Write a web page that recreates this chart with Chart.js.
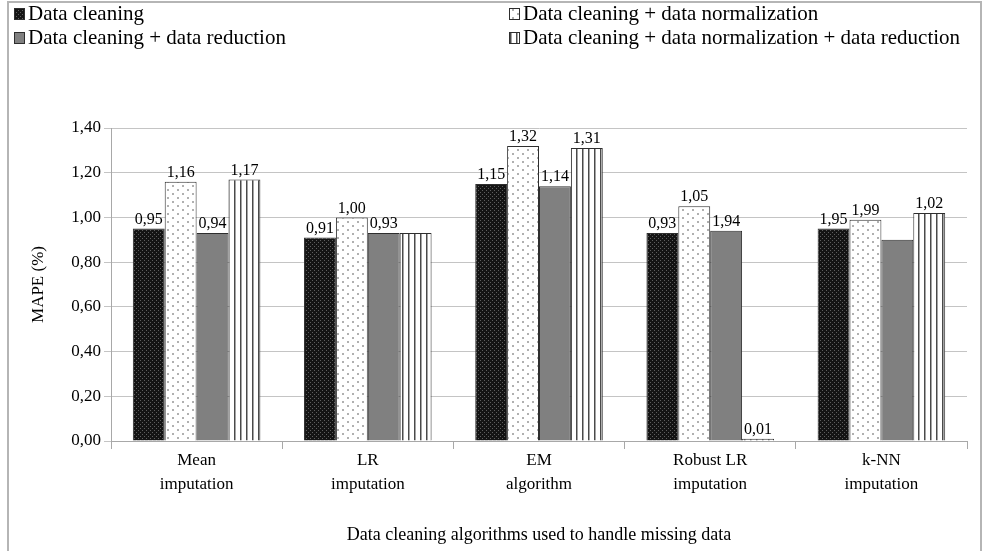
<!DOCTYPE html>
<html>
<head>
<meta charset="utf-8">
<script src="https://cdn.jsdelivr.net/npm/chart.js@4.4.1/dist/chart.umd.min.js"></script>
<style>
  html, body { margin: 0; padding: 0; background: #fff; }
  #wrap { width: 983px; height: 551px; position: relative; }
</style>
</head>
<body>
<div id="wrap"><canvas id="myChart"></canvas></div>
<script>
// chart data
const categories = [
  ["Mean", "imputation"],
  ["LR", "imputation"],
  ["EM", "algorithm"],
  ["Robust LR", "imputation"],
  ["k-NN", "imputation"],
];
const seriesNames = [
  "Data cleaning",
  "Data cleaning + data normalization",
  "Data cleaning + data reduction",
  "Data cleaning + data normalization + data reduction",
];
const cleaning = [0.95, 0.91, 1.15, 0.93, 0.95];
const cleaningNorm = [1.16, 1.00, 1.32, 1.05, 0.99];
const cleaningRed = [0.93, 0.93, 1.14, 0.94, 0.90];
const cleaningNormRed = [1.17, 0.93, 1.31, 0.01, 1.02];
// value labels as printed in the figure
const cleaningLabels = ["0,95", "0,91", "1,15", "0,93", "1,95"];
const cleaningNormLabels = ["1,16", "1,00", "1,32", "1,05", "1,99"];
const cleaningRedLabels = ["0,94", "0,93", "1,14", "1,94", ""];
const cleaningNormRedLabels = ["1,17", "", "1,31", "0,01", "1,02"];
const yTicks = [0, 0.2, 0.4, 0.6, 0.8, 1.0, 1.2, 1.4];

var ctx = document.getElementById("myChart").getContext("2d");
const SERIF = "'Liberation Serif', 'Times New Roman', serif";

function makePattern(w, h, draw) {
  const c = document.createElement("canvas");
  c.width = w;
  c.height = h;
  const g = c.getContext("2d");
  draw(g);
  return ctx.createPattern(c, "repeat");
}

const darkPat = makePattern(4, 4, (g) => {
  g.fillStyle = "#141414";
  g.fillRect(0, 0, 4, 4);
  g.fillStyle = "#5e5e5e";
  g.fillRect(0, 0, 1, 1);
  g.fillRect(2, 2, 1, 1);
});
const dotPat = makePattern(10, 8, (g) => {
  g.fillStyle = "#ffffff";
  g.fillRect(0, 0, 10, 8);
  g.fillStyle = "#b0b0b0";
  g.fillRect(2, 1, 2, 2);
  g.fillRect(7, 5, 2, 2);
});
const grayFill = "#808080";
const stripePat = makePattern(6, 2, (g) => {
  g.fillStyle = "#ffffff";
  g.fillRect(0, 0, 6, 2);
  g.fillStyle = "#4a4a4a";
  g.fillRect(0, 0, 1.5, 2);
});

const fills = [darkPat, dotPat, grayFill, stripePat];
const valueArrays = [cleaning, cleaningNorm, cleaningRed, cleaningNormRed];
const labelArrays = [cleaningLabels, cleaningNormLabels, cleaningRedLabels, cleaningNormRedLabels];

const datasets = seriesNames.map((name, i) => ({
  label: name,
  data: valueArrays[i],
  valueLabels: labelArrays[i],
  backgroundColor: fills[i],
  borderColor: "#2e2e2e",
  borderWidth: 1,
  borderSkipped: "bottom",
  barPercentage: 1.0,
  categoryPercentage: 0.745,
}));

// outer frame, legend and value labels
const figurePlugin = {
  id: "figure",
  beforeDraw(chart) {
    const c = chart.ctx;
    c.save();
    c.fillStyle = "#fff";
    c.fillRect(0, 0, chart.width, chart.height);
    c.strokeStyle = "#b5b5b5";
    c.lineWidth = 2;
    c.strokeRect(8, 2, 973, 560);
    c.restore();
  },
  afterDraw(chart) {
    const c = chart.ctx;
    c.save();
    c.font = "21px " + SERIF;
    c.textBaseline = "middle";
    const pos = [
      [14, 13],
      [509, 13],
      [14, 37],
      [509, 37],
    ];
    chart.data.datasets.forEach((ds, i) => {
      const [x, y] = pos[i];
      c.fillStyle = ds.backgroundColor;
      c.fillRect(x, y - 5, 10, 11);
      c.strokeStyle = "#2e2e2e";
      c.lineWidth = 1;
      c.strokeRect(x + 0.5, y - 5 + 0.5, 10, 11);
      c.fillStyle = "#000";
      c.fillText(ds.label, x + 14, y + 1);
    });
    c.restore();
  },
  afterDatasetsDraw(chart) {
    const c = chart.ctx;
    c.save();
    c.font = "16px " + SERIF;
    c.textAlign = "center";
    c.textBaseline = "bottom";
    c.fillStyle = "#000";
    chart.data.datasets.forEach((ds, i) => {
      chart.getDatasetMeta(i).data.forEach((bar, j) => {
        const txt = ds.valueLabels[j];
        if (txt) c.fillText(txt, bar.x, bar.y - 1);
      });
    });
    c.restore();
  },
};

var myChart = new Chart(ctx, {
  type: "bar",
  data: { labels: categories, datasets: datasets },
  plugins: [figurePlugin],
  options: {
    responsive: true,
    maintainAspectRatio: false,
    animation: false,
    layout: { padding: { top: 128, right: 16, left: 0, bottom: 0 } },
    plugins: { legend: { display: false }, tooltip: { enabled: false } },
    scales: {
      x: {
        offset: true,
        grid: {
          offset: true,
          drawOnChartArea: false,
          color: "#a8a8a8",
          tickLength: 8,
        },
        border: { color: "#a8a8a8" },
        ticks: {
          color: "#000",
          font: { family: SERIF, size: 17, lineHeight: 1.4 },
          padding: 0,
          maxRotation: 0,
          autoSkip: false,
        },
        title: {
          display: true,
          text: "Data cleaning algorithms used to handle missing data",
          color: "#000",
          font: { family: SERIF, size: 18 },
          padding: { top: 0, bottom: 5 },
        },
        afterFit(scale) {
          scale.height = 110;
        },
      },
      y: {
        min: 0,
        max: 1.4,
        afterBuildTicks(scale) {
          scale.ticks = yTicks.map((v) => ({ value: v }));
        },
        grid: { color: "#c4c4c4", tickLength: 7 },
        border: { color: "#a8a8a8" },
        ticks: {
          color: "#000",
          font: { family: SERIF, size: 17 },
          padding: 3,
          callback: (v) => v.toFixed(2).replace(".", ","),
        },
        title: {
          display: true,
          text: "MAPE (%)",
          color: "#000",
          font: { family: SERIF, size: 17 },
          padding: { top: 28, bottom: 0 },
        },
        afterFit(scale) {
          scale.width = 111;
        },
      },
    },
  },
});
</script>
</body>
</html>
